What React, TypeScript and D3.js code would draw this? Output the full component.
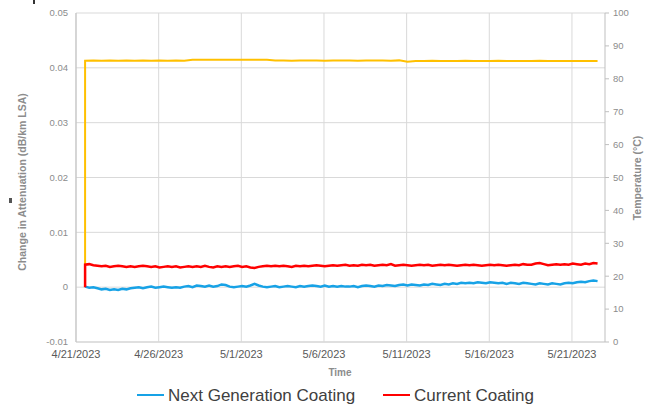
import React from "react";
import * as d3 from "d3";

// ---- data ----
const xTickLabels = ["4/21/2023", "4/26/2023", "5/1/2023", "5/6/2023", "5/11/2023", "5/16/2023", "5/21/2023"];
const leftTicks = [-0.01, 0, 0.01, 0.02, 0.03, 0.04, 0.05];
const leftTickLabels = ["-0.01", "0", "0.01", "0.02", "0.03", "0.04", "0.05"];
const rightTicks = [0, 10, 20, 30, 40, 50, 60, 70, 80, 90, 100];

const seriesStartDay = 0.55; // days after 4/21/2023 00:00
const attStepDays = 0.25;
const tempStepDays = 0.5;

// Change in attenuation, units of 0.001 dB/km
const nextGenValues = [
  0.1, -0.1, 0.0, -0.2, -0.4, -0.3, -0.5, -0.4, -0.5, -0.3, -0.4, -0.2, -0.1, 0.0, -0.2, 0.0,
  0.1, -0.1, 0.0, 0.1, 0.0, -0.1, 0.0, -0.1, 0.1, 0.2, 0.0, 0.3, 0.2, 0.1, 0.3, 0.1,
  0.2, 0.5, 0.4, 0.1, 0.0, 0.1, 0.2, 0.1, 0.3, 0.6, 0.3, 0.1, 0.0, 0.1, 0.2, 0.0,
  0.1, 0.2, 0.1, 0.0, 0.2, 0.1, 0.2, 0.3, 0.2, 0.1, 0.3, 0.1, 0.2, 0.1, 0.2, 0.1,
  0.1, 0.2, 0.0, 0.2, 0.3, 0.2, 0.1, 0.3, 0.2, 0.4, 0.3, 0.2, 0.4, 0.5, 0.3, 0.5,
  0.4, 0.3, 0.5, 0.4, 0.6, 0.5, 0.4, 0.6, 0.5, 0.7, 0.6, 0.8, 0.7, 0.8, 0.7, 0.9,
  0.8, 0.7, 0.9, 0.8, 0.7, 0.8, 0.6, 0.8, 0.7, 0.6, 0.8, 0.7, 0.6, 0.5, 0.7, 0.6,
  0.5, 0.7, 0.6, 0.5, 0.7, 0.8, 0.7, 0.9, 1.0, 0.9, 1.1, 1.2, 1.1,
];
const currentInitial = 0.0;
const currentValues = [
  4.1, 4.2, 4.0, 3.9, 3.8, 3.9, 3.7, 3.8, 3.9, 3.8, 3.7, 3.8, 3.7, 3.8, 3.9, 3.8,
  3.7, 3.8, 3.6, 3.7, 3.8, 3.7, 3.8, 3.6, 3.7, 3.8, 3.7, 3.8, 3.7, 3.9, 3.7, 3.6,
  3.8, 3.7, 3.8, 3.7, 3.8, 3.9, 3.7, 3.8, 3.6, 3.5, 3.7, 3.8, 3.9, 3.8, 3.9, 3.8,
  3.9, 3.8, 3.7, 3.9, 3.8, 3.9, 3.8, 3.9, 4.0, 3.9, 3.8, 3.9, 4.0, 3.9, 4.0, 4.1,
  3.9, 4.0, 3.9, 4.1, 4.0, 4.1, 3.9, 4.0, 4.1, 4.0, 4.2, 3.9, 4.0, 4.1, 4.0, 3.9,
  4.0, 4.1, 4.0, 4.1, 3.9, 4.0, 4.1, 4.0, 4.1, 4.0, 3.9, 4.0, 4.1, 4.0, 4.1, 4.0,
  3.9, 4.0, 4.1, 4.0, 4.1, 4.0, 3.9, 4.0, 4.1, 4.0, 4.2, 4.1, 4.1, 4.3, 4.4, 4.2,
  4.0, 4.1, 4.2, 4.1, 4.2, 4.1, 4.3, 4.2, 4.1, 4.3, 4.2, 4.4, 4.3,
];
// Temperature, °C
const tempInitial = 23;
const tempValues = [
  85.5, 85.6, 85.5, 85.6, 85.5, 85.6, 85.5, 85.6, 85.5, 85.6, 85.5, 85.6, 85.5,
  85.8, 85.8, 85.8, 85.8, 85.8, 85.8, 85.8, 85.8, 85.8, 85.8,
  85.6, 85.6, 85.5, 85.6, 85.6, 85.6, 85.5, 85.6, 85.6, 85.6, 85.5, 85.6, 85.6, 85.6, 85.5, 85.6,
  85.2,
  85.4, 85.4, 85.5, 85.4, 85.4, 85.4, 85.5, 85.4, 85.4, 85.4, 85.5, 85.4, 85.4, 85.4, 85.4, 85.5,
  85.4, 85.4, 85.4, 85.4, 85.4, 85.4, 85.4,
];

const legendItems = [
  { label: "Next Generation Coating", color: "#17A2E6" },
  { label: "Current Coating", color: "#FF0000" },
];

// ---- layout ----
const W = 647, H = 407;
const left = 76, right = 605, top = 13, bottom = 342;
const FONT = "'Liberation Sans', Arial, sans-serif";

const t0 = new Date(2023, 3, 21);
const dayToDate = (d: number) => new Date(t0.getTime() + d * 86400000);
const parseLabel = (s: string) => {
  const [m, d, y] = s.split("/").map(Number);
  return new Date(y, m - 1, d);
};

export default function App() {
  const x = d3.scaleTime().domain([t0, new Date(2023, 4, 23)]).range([left, right]);
  const yL = d3.scaleLinear().domain([-0.01, 0.05]).range([bottom, top]);
  const yR = d3.scaleLinear().domain([0, 100]).range([bottom, top]);

  type P = { d: number; v: number };
  const nextPts: P[] = nextGenValues.map((v, i) => ({ d: seriesStartDay + i * attStepDays, v: v / 1000 }));
  const curPts: P[] = [
    { d: seriesStartDay, v: currentInitial / 1000 },
    ...currentValues.map((v, i) => ({ d: seriesStartDay + i * attStepDays, v: v / 1000 })),
  ];
  const tempPts: P[] = [
    { d: seriesStartDay, v: tempInitial },
    ...tempValues.map((v, i) => ({ d: seriesStartDay + i * tempStepDays, v })),
  ];

  const lineL = d3.line<P>().x((p) => x(dayToDate(p.d))).y((p) => yL(p.v));
  const lineR = d3.line<P>().x((p) => x(dayToDate(p.d))).y((p) => yR(p.v));

  const grid = "#d9d9d9";
  const axis = "#bfbfbf";

  const legendY = 395;
  const legendStarts = [137, 383];

  return (
    <svg width={W} height={H} style={{ position: "absolute", left: 0, top: 0, background: "#fff" }}>
      <rect x={0} y={0} width={W} height={H} fill="#fff" />
      {leftTicks.map((t) => (
        <line key={"h" + t} x1={left} x2={right} y1={yL(t)} y2={yL(t)} stroke={t === -0.01 ? axis : grid} strokeWidth={1} />
      ))}
      {xTickLabels.map((s) => {
        const xx = x(parseLabel(s));
        return <line key={"v" + s} x1={xx} x2={xx} y1={top} y2={bottom} stroke={grid} strokeWidth={1} />;
      })}
      <line x1={left} x2={left} y1={top} y2={bottom} stroke={axis} />
      <line x1={right} x2={right} y1={top} y2={bottom} stroke={axis} />
      {rightTicks.map((t) => (
        <line key={"rt" + t} x1={right} x2={right + 4} y1={yR(t)} y2={yR(t)} stroke={axis} />
      ))}
      {leftTicks.map((t, i) => (
        <text key={"lt" + t} x={68} y={yL(t)} dy="0.35em" textAnchor="end" fontFamily={FONT} fontSize={9.5} fill="#8c8c8c">
          {leftTickLabels[i]}
        </text>
      ))}
      {rightTicks.map((t) => (
        <text key={"rl" + t} x={613} y={yR(t)} dy="0.35em" textAnchor="start" fontFamily={FONT} fontSize={9.5} fill="#8c8c8c">
          {t}
        </text>
      ))}
      {xTickLabels.map((s) => (
        <text key={"xl" + s} x={x(parseLabel(s))} y={358} textAnchor="middle" fontFamily={FONT} fontSize={11} fill="#595959">
          {s}
        </text>
      ))}
      <text x={340} y={376} textAnchor="middle" fontFamily={FONT} fontSize={10} fontWeight="bold" fill="#8c8c8c">
        Time
      </text>
      <text
        transform="translate(22,182) rotate(-90)"
        textAnchor="middle"
        dy="0.35em"
        fontFamily={FONT}
        fontSize={10.5}
        fontWeight="bold"
        fill="#8c8c8c"
      >
        Change in Attenuation (dB/km LSA)
      </text>
      <text
        transform="translate(637,178) rotate(-90)"
        textAnchor="middle"
        dy="0.35em"
        fontFamily={FONT}
        fontSize={10.5}
        fontWeight="bold"
        fill="#8c8c8c"
      >
        Temperature (°C)
      </text>
      <path d={lineR(tempPts) || ""} fill="none" stroke="#FFC000" strokeWidth={2} />
      <path d={lineL(nextPts) || ""} fill="none" stroke={legendItems[0].color} strokeWidth={2.5} />
      <path d={lineL(curPts) || ""} fill="none" stroke={legendItems[1].color} strokeWidth={2.5} />
      {legendItems.map((it, i) => (
        <g key={it.label}>
          <line x1={legendStarts[i]} x2={legendStarts[i] + 27} y1={legendY} y2={legendY} stroke={it.color} strokeWidth={2} />
          <text x={legendStarts[i] + 31} y={legendY} dy="0.35em" fontFamily={FONT} fontSize={17} fill="#404040">
            {it.label}
          </text>
        </g>
      ))}
      <rect x={33} y={0} width={2} height={4} fill="#333" />
      <rect x={9} y={198} width={3} height={5} fill="#555" />
    </svg>
  );
}
